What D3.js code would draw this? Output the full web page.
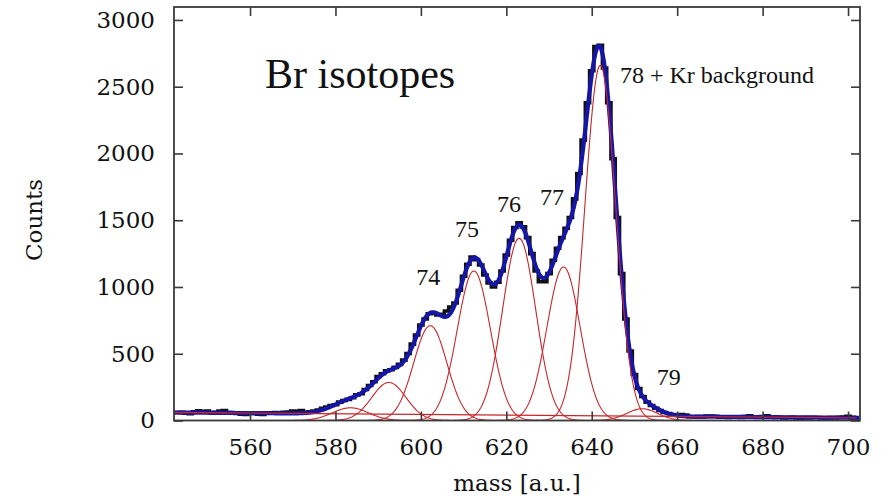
<!DOCTYPE html>
<html>
<head>
<meta charset="utf-8">
<script src="https://cdn.jsdelivr.net/npm/d3@7"></script>
<style>
  body { margin: 0; background: #fff; }
  svg { display: block; }
</style>
</head>
<body>
<div id="chart"></div>
<script>
//////////////////// Data ////////////////////

// histogram: one bin per mass unit, starting at binStart
const binStart = 542;
const counts = [
  58, 60, 62, 55, 50, 66, 72, 64, 70, 58, 62, 70, 74, 60, 55, 52, 48, 45, 54, 52, 48, 46, 56, 58, 60, 55, 62, 64, 70, 68, 74,
  60, 66, 70, 78, 92, 100, 112, 118, 138, 150, 158, 170, 192, 200, 232, 262, 290, 330, 350, 372, 380, 398, 420, 452, 502, 572, 640, 715, 760, 800,
  805, 790, 795, 820, 850, 880, 975, 1080, 1170, 1225, 1205, 1165, 1090, 1030, 1000, 1035, 1120, 1240, 1350, 1445, 1480, 1450, 1370, 1250, 1120, 1040, 1040, 1100, 1200, 1290,
  1370, 1440, 1520, 1660, 1850, 2100, 2380, 2620, 2800, 2810, 2640, 2380, 1960, 1520, 1100, 760, 520, 345, 240, 180, 138, 112, 92, 75, 60, 52, 45, 40, 44, 40,
  28, 26, 30, 27, 34, 33, 32, 25, 24, 22, 26, 24, 22, 30, 36, 28, 24, 30, 36, 26, 22, 24, 20, 22, 24, 20, 18, 22, 20, 24, 22, 20, 18, 22, 20, 24, 26, 32, 24, 20
];

// fitted gaussian components (centre, height, sigma)
const peakCenters = [583.5, 592.5, 602.2, 612.4, 623.0, 633.4, 642.0, 651.8];
const peakHeights = [95, 285, 710, 1120, 1365, 1150, 2660, 88];
const peakSigmas  = [4.2, 4.0, 3.9, 3.9, 3.9, 3.9, 3.6, 3.6];

// linear background (mass, counts) at both ends
const bgMass   = [542, 702];
const bgCounts = [60, 20];

// peak annotations: text, mass, counts (left edge / baseline)
const labelText   = ["74", "75", "76", "77", "78 + Kr background", "79"];
const labelMass   = [598.9, 608.0, 617.8, 627.9, 646.6, 655.2];
const labelCounts = [1015, 1375, 1562, 1614, 2528, 266];

const xTicks = [560, 580, 600, 620, 640, 660, 680, 700];
const yTicks = [0, 500, 1000, 1500, 2000, 2500, 3000];

//////////////////// Setup ////////////////////

const width = 888, height = 498;
const plot = {left: 174, right: 860, top: 7, bottom: 420.5};

const x = d3.scaleLinear().domain([542.2, 702.8]).range([plot.left, plot.right]);
const y = d3.scaleLinear().domain([0, 3097]).range([plot.bottom, plot.top]);

const svg = d3.select("#chart").append("svg")
  .attr("width", width)
  .attr("height", height);

svg.append("defs").append("clipPath").attr("id", "clip")
  .append("rect")
  .attr("x", plot.left).attr("y", plot.top)
  .attr("width", plot.right - plot.left)
  .attr("height", plot.bottom - plot.top);

const bgAt = m => bgCounts[0] + (bgCounts[1] - bgCounts[0]) * (m - bgMass[0]) / (bgMass[1] - bgMass[0]);
const gauss = (k, m) => peakHeights[k] * Math.exp(-((m - peakCenters[k]) ** 2) / (2 * peakSigmas[k] ** 2));

const grid = d3.range(x.domain()[0], x.domain()[1], 0.2);

const g = svg.append("g").attr("clip-path", "url(#clip)");

//////////////////// Marks ////////////////////

// measured histogram
const hist = counts.map((c, i) => ({m: binStart + i, c: c}));
g.append("path")
  .datum(hist)
  .attr("fill", "none")
  .attr("stroke", "#111")
  .attr("stroke-width", 3.6)
  .attr("d", d3.line().x(d => x(d.m)).y(d => y(d.c)).curve(d3.curveStep));

// total fit
const fit = grid.map(m => ({m: m, c: bgAt(m) + d3.sum(peakCenters, (p, k) => gauss(k, m))}));
g.append("path")
  .datum(fit)
  .attr("fill", "none")
  .attr("stroke", "#1616a6")
  .attr("stroke-width", 4.2)
  .attr("stroke-linejoin", "round")
  .attr("d", d3.line().x(d => x(d.m)).y(d => y(d.c)));

// single components
const compLine = d3.line().x(d => x(d.m)).y(d => y(d.c));
peakCenters.forEach((p, k) => {
  const pts = grid.filter(m => Math.abs(m - p) < 6 * peakSigmas[k]).map(m => ({m: m, c: gauss(k, m)}));
  g.append("path")
    .datum(pts)
    .attr("fill", "none")
    .attr("stroke", "#c8262a")
    .attr("stroke-width", 1.1)
    .attr("d", compLine);
});

// background
g.append("path")
  .datum(bgMass.map((m, i) => ({m: m, c: bgCounts[i]})))
  .attr("fill", "none")
  .attr("stroke", "#c8262a")
  .attr("stroke-width", 1.3)
  .attr("d", compLine);

//////////////////// Frame & axes ////////////////////

const frameCol = "#3a3a3a";
const tickLen = 9;

svg.append("rect")
  .attr("x", plot.left).attr("y", plot.top)
  .attr("width", plot.right - plot.left)
  .attr("height", plot.bottom - plot.top)
  .attr("fill", "none")
  .attr("stroke", frameCol)
  .attr("stroke-width", 1.8);

const fmt = d3.format("d");
const axB = svg.append("g").attr("transform", `translate(0,${plot.bottom})`)
  .call(d3.axisBottom(x).tickValues(xTicks).tickFormat(fmt).tickSizeInner(-tickLen).tickSizeOuter(0).tickPadding(18));
const axT = svg.append("g").attr("transform", `translate(0,${plot.top})`)
  .call(d3.axisTop(x).tickValues(xTicks).tickSizeInner(-tickLen).tickSizeOuter(0).tickFormat(""));
const axL = svg.append("g").attr("transform", `translate(${plot.left},0)`)
  .call(d3.axisLeft(y).tickValues(yTicks).tickFormat(fmt).tickSizeInner(-tickLen).tickSizeOuter(0).tickPadding(19));
const axR = svg.append("g").attr("transform", `translate(${plot.right},0)`)
  .call(d3.axisRight(y).tickValues(yTicks).tickSizeInner(-tickLen).tickSizeOuter(0).tickFormat(""));

[axB, axT, axL, axR].forEach(a => {
  a.select(".domain").remove();
  a.selectAll(".tick line").attr("stroke", frameCol).attr("stroke-width", 1.6);
  a.selectAll("text")
    .attr("fill", "#111")
    .style("font-family", "'DejaVu Serif', serif")
    .style("font-size", "23px");
});
axB.selectAll("text").attr("dy", "0.71em");

svg.append("text")
  .attr("x", (plot.left + plot.right) / 2)
  .attr("y", 491)
  .attr("text-anchor", "middle")
  .style("font-family", "'DejaVu Serif', serif")
  .style("font-size", "23px")
  .attr("fill", "#111")
  .text("mass [a.u.]");

svg.append("text")
  .attr("transform", "translate(42,220) rotate(-90)")
  .attr("text-anchor", "middle")
  .style("font-family", "'DejaVu Serif', serif")
  .style("font-size", "23px")
  .attr("fill", "#111")
  .text("Counts");

//////////////////// Annotations ////////////////////

svg.append("text")
  .attr("x", 265)
  .attr("y", 88)
  .style("font-family", "'Liberation Serif', 'Times New Roman', serif")
  .style("font-size", "42px")
  .attr("fill", "#111")
  .text("Br isotopes");

svg.selectAll(".peakLabel")
  .data(labelText)
  .enter().append("text")
  .attr("class", "peakLabel")
  .attr("x", (d, i) => x(labelMass[i]))
  .attr("y", (d, i) => y(labelCounts[i]))
  .style("font-family", "'Liberation Serif', 'Times New Roman', serif")
  .style("font-size", "24px")
  .attr("fill", "#111")
  .text(d => d);
</script>
</body>
</html>
